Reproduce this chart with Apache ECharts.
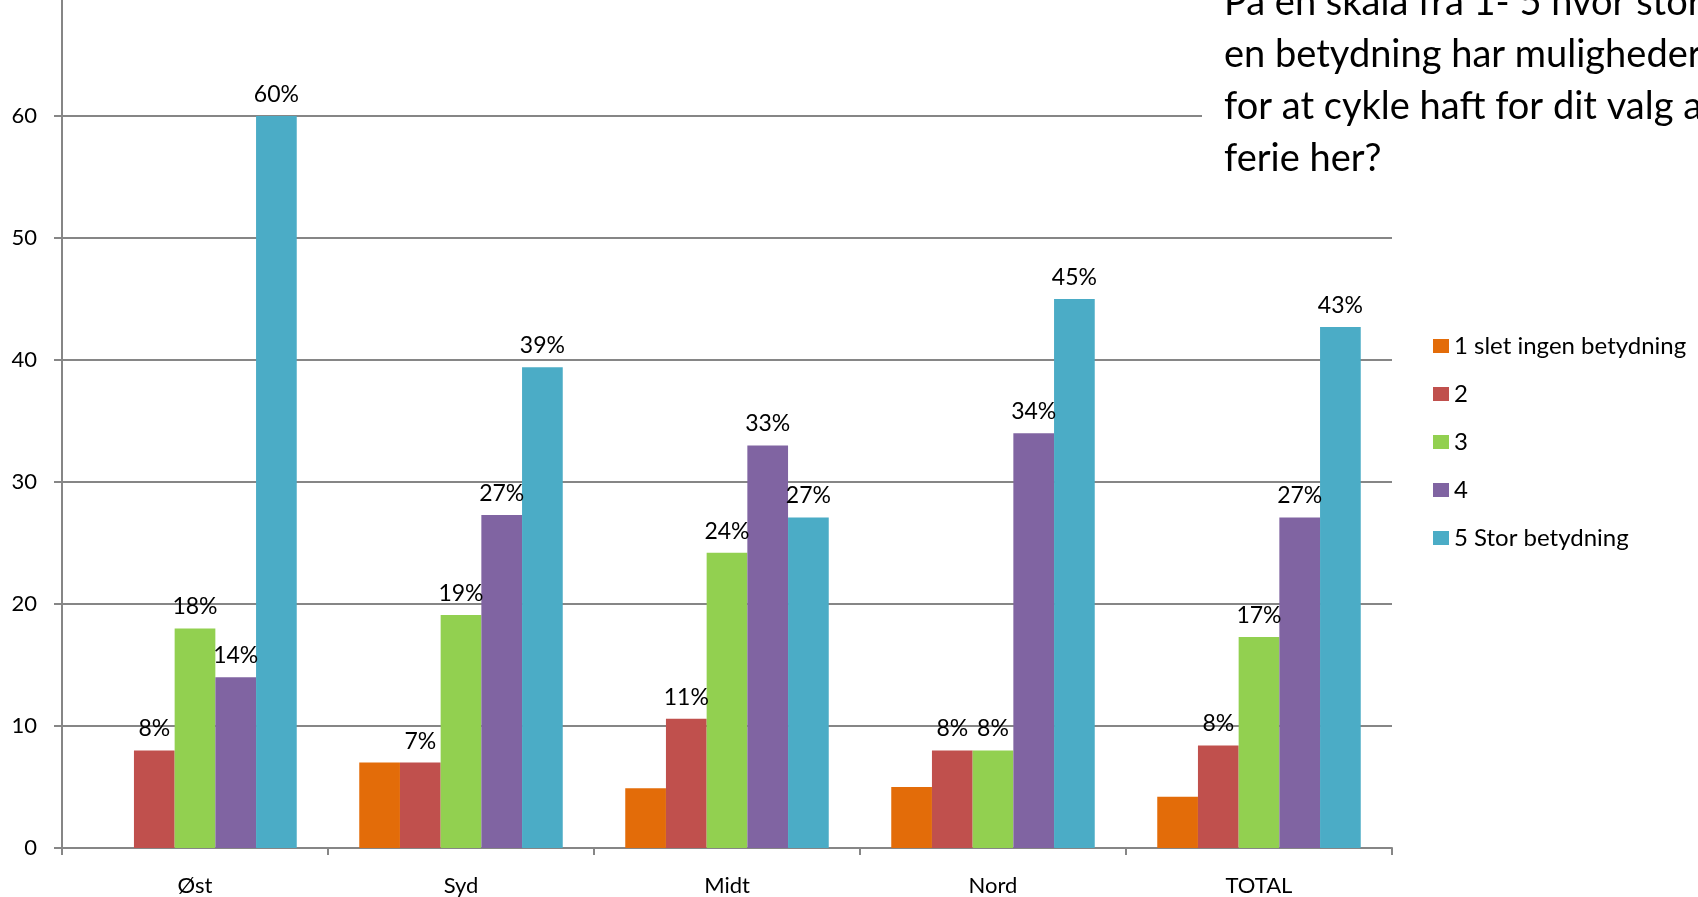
<!DOCTYPE html>
<html>
<head>
<meta charset="utf-8">
<script src="https://cdn.jsdelivr.net/npm/echarts@6/dist/echarts.min.js"></script>
<style>
html,body{margin:0;padding:0;background:#fff;}
#chart{width:1698px;height:897px;}
</style>
</head>
<body>
<div id="chart"></div>
<script>
const categories = ["Øst", "Syd", "Midt", "Nord", "TOTAL"];
const seriesNames = ["1 slet ingen betydning", "2", "3", "4", "5 Stor betydning"];
const s1 = [0, 7.0, 4.9, 5.0, 4.2];
const s2 = [8.0, 7.0, 10.6, 8.0, 8.4];
const s3 = [18.0, 19.1, 24.2, 8.0, 17.3];
const s4 = [14.0, 27.3, 33.0, 34.0, 27.1];
const s5 = [60.0, 39.4, 27.1, 45.0, 42.7];
const seriesValues = [s1, s2, s3, s4, s5];
const showLabel = [false, true, true, true, true];
const colors = ["#E36C09", "#C0504D", "#92D050", "#8064A2", "#4BACC6"];
const yTicks = [0, 10, 20, 30, 40, 50, 60, 70];
const titleText = "På en skala fra 1- 5 hvor stor\nen betydning har mulighederne\nfor at cykle haft for dit valg af\nferie her?";

const FONT = "Lato";
const chart = echarts.init(document.getElementById('chart'), null, {renderer: 'canvas'});
const option = {
  animation: false,
  backgroundColor: '#fff',
  color: colors,
  textStyle: {fontFamily: FONT},
  grid: {left: 62, right: 306, top: -6, bottom: 49, containLabel: false, outerBoundsMode: 'none'},
  title: {
    text: titleText,
    left: 1202,
    top: -23,
    padding: [0, 0, 0, 22],
    backgroundColor: '#fff',
    textStyle: {fontFamily: FONT, fontSize: 38, fontWeight: 'normal', color: '#000', lineHeight: 52}
  },
  legend: {
    orient: 'vertical',
    left: 1428,
    top: 329,
    itemWidth: 16,
    itemHeight: 14,
    itemGap: 24,
    icon: 'rect',
    data: seriesNames,
    textStyle: {fontFamily: FONT, fontSize: 24, color: '#000', lineHeight: 22}
  },
  xAxis: {
    type: 'category',
    data: categories,
    axisLine: {show: true, lineStyle: {color: '#868686', width: 2}},
    axisTick: {show: true, length: 7, lineStyle: {color: '#868686', width: 2}},
    axisLabel: {fontFamily: FONT, fontSize: 22, color: '#000', margin: 27},
    splitLine: {show: false}
  },
  yAxis: {
    type: 'value',
    min: yTicks[0],
    max: yTicks[yTicks.length - 1],
    interval: 10,
    axisLine: {show: true, lineStyle: {color: '#868686', width: 2}},
    axisTick: {show: true, length: 8, lineStyle: {color: '#868686', width: 2}},
    axisLabel: {fontFamily: FONT, fontSize: 22, color: '#000', margin: 25, showMaxLabel: false},
    splitLine: {show: true, lineStyle: {color: '#868686', width: 2}}
  },
  series: seriesValues.map((vals, i) => ({
    name: seriesNames[i],
    type: 'bar',
    data: vals,
    barGap: '0%',
    barCategoryGap: '23.5%',
    itemStyle: {color: colors[i]},
    label: {
      show: showLabel[i],
      position: 'top',
      distance: 10,
      fontFamily: FONT,
      fontSize: 23,
      color: '#000',
      formatter: p => Math.round(p.value) + '%'
    }
  }))
};
chart.setOption(option);
</script>
</body>
</html>
